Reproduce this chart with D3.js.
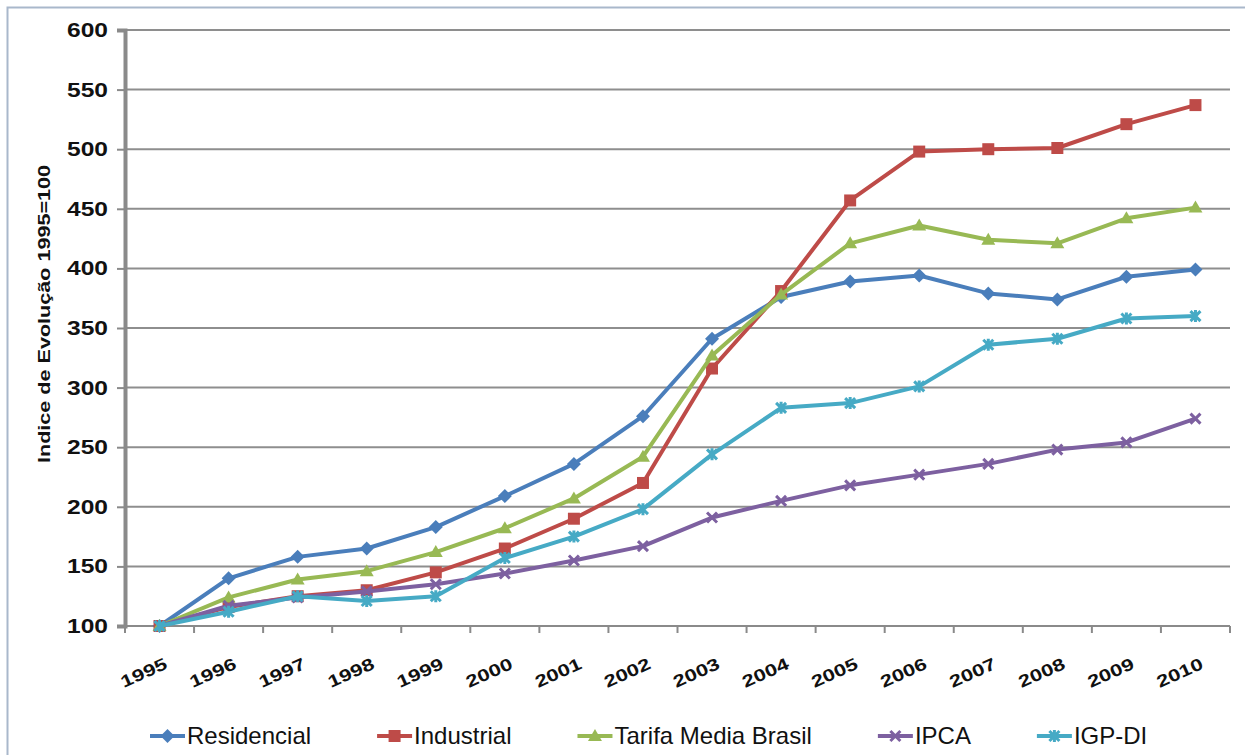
<!DOCTYPE html>
<html>
<head>
<meta charset="utf-8">
<script src="https://cdn.jsdelivr.net/npm/d3@7"></script>
<style>
  body { margin: 0; background: #fff; }
  svg { display: block; font-family: "Liberation Sans", Arial, sans-serif; }
</style>
</head>
<body>
<svg id="chart" width="1245" height="755"></svg>
<script>
// Data
const years = ["1995", "1996", "1997", "1998", "1999", "2000", "2001", "2002",
               "2003", "2004", "2005", "2006", "2007", "2008", "2009", "2010"];
const residencial = [100, 140, 158, 165, 183, 209, 236, 276, 341, 376, 389, 394, 379, 374, 393, 399];
const industrial  = [100, 116, 125, 130, 145, 165, 190, 220, 316, 381, 457, 498, 500, 501, 521, 537];
const tarifa      = [100, 124, 139, 146, 162, 182, 207, 242, 327, 378, 421, 436, 424, 421, 442, 451];
const ipca        = [100, 117, 124, 129, 135, 144, 155, 167, 191, 205, 218, 227, 236, 248, 254, 274];
const igpdi       = [100, 112, 125, 121, 125, 157, 175, 198, 244, 283, 287, 301, 336, 341, 358, 360];
const yTicks = [100, 150, 200, 250, 300, 350, 400, 450, 500, 550, 600];

const series = [
    { name: "Residencial", values: residencial, color: "#4a7ebb", marker: "diamond" },
    { name: "Industrial", values: industrial, color: "#be4b48", marker: "square" },
    { name: "Tarifa Media Brasil", values: tarifa, color: "#98b954", marker: "triangle" },
    { name: "IPCA", values: ipca, color: "#7d60a0", marker: "cross" },
    { name: "IGP-DI", values: igpdi, color: "#46aac5", marker: "star" }
];

const svg = d3.select("#chart");
const plotLeft = 125, plotRight = 1230, plotTop = 30, plotBottom = 626;

// Frame (only top and left visible in the reference)
svg.append("path")
    .attr("d", "M7.5,755 V7.5 H1245")
    .attr("fill", "none")
    .attr("stroke", "#a9b8cb")
    .attr("stroke-width", 2);

const x = d3.scaleBand().domain(years).range([plotLeft, plotRight]);
const y = d3.scaleLinear().domain([100, 600]).range([plotBottom, plotTop]);

// Gridlines
svg.append("g")
    .selectAll("line")
    .data(yTicks.filter(d => d > 100))
    .join("line")
    .attr("x1", plotLeft).attr("x2", plotRight)
    .attr("y1", d => y(d)).attr("y2", d => y(d))
    .attr("stroke", "#8e8e8e")
    .attr("stroke-width", 2);

// Y axis
const yAxis = svg.append("g")
    .attr("transform", `translate(${plotLeft},0)`)
    .call(d3.axisLeft(y).tickValues(yTicks).tickSize(8).tickPadding(9));
yAxis.select(".domain").attr("stroke", "#8a8a8a").attr("stroke-width", 4);
yAxis.selectAll(".tick line").attr("stroke", "#8a8a8a").attr("stroke-width", 2);
yAxis.selectAll(".tick text")
    .attr("font-size", 20)
    .attr("font-weight", "bold")
    .attr("fill", "#111")
    .attr("textLength", 41)
    .attr("lengthAdjust", "spacingAndGlyphs");

// X axis: ticks on category boundaries
const xAxisG = svg.append("g");
xAxisG.append("line")
    .attr("x1", plotLeft).attr("x2", plotRight)
    .attr("y1", plotBottom).attr("y2", plotBottom)
    .attr("stroke", "#8a8a8a").attr("stroke-width", 2);
xAxisG.selectAll(".xt")
    .data(years.map(d => x(d) + x.bandwidth()).concat([plotLeft]))
    .join("line")
    .attr("class", "xt")
    .attr("x1", d => d).attr("x2", d => d)
    .attr("y1", plotBottom).attr("y2", plotBottom + 7)
    .attr("stroke", "#8a8a8a").attr("stroke-width", 2);
xAxisG.selectAll("text")
    .data(years)
    .join("text")
    .attr("transform", d => `translate(${x(d) + x.bandwidth() / 2 + 9},668) rotate(-24)`)
    .attr("text-anchor", "end")
    .attr("font-size", 17)
    .attr("font-weight", "bold")
    .attr("fill", "#111")
    .attr("textLength", 49)
    .attr("lengthAdjust", "spacingAndGlyphs")
    .text(d => d);

// Y axis title
svg.append("text")
    .attr("transform", "translate(50,314) rotate(-90)")
    .attr("text-anchor", "middle")
    .attr("font-size", 16)
    .attr("font-weight", "bold")
    .attr("fill", "#111")
    .attr("textLength", 298)
    .attr("lengthAdjust", "spacingAndGlyphs")
    .text("Indice de Evolução 1995=100");

// Marker shapes
function markerPath(type) {
    if (type === "diamond") return "M0,-7L7,0L0,7L-7,0Z";
    if (type === "square") return "M-6,-6H6V6H-6Z";
    if (type === "triangle") return "M0,-7L7,5H-7Z";
    if (type === "cross") return "M-5,-5L5,5M-5,5L5,-5";
    return "M-5,-5L5,5M-5,5L5,-5M0,-6V6";
}

function drawMarker(g, s) {
    const p = g.append("path").attr("d", markerPath(s.marker));
    if (s.marker === "cross" || s.marker === "star") {
        p.attr("fill", "none").attr("stroke", s.color).attr("stroke-width", 3);
    } else {
        p.attr("fill", s.color);
    }
}

const line = d3.line()
    .x((d, i) => x(years[i]) + x.bandwidth() / 2)
    .y(d => y(d));

series.forEach(s => {
    const g = svg.append("g");
    g.append("path")
        .datum(s.values)
        .attr("d", line)
        .attr("fill", "none")
        .attr("stroke", s.color)
        .attr("stroke-width", 4)
        .attr("stroke-linejoin", "round");
    s.values.forEach((v, i) => {
        const m = g.append("g")
            .attr("transform", `translate(${x(years[i]) + x.bandwidth() / 2},${y(v)})`);
        drawMarker(m, s);
    });
});

// Legend
let lx = 150;
const ly = 736;
series.forEach(s => {
    const g = svg.append("g").attr("transform", `translate(${lx},${ly})`);
    g.append("line")
        .attr("x1", 0).attr("x2", 35)
        .attr("stroke", s.color).attr("stroke-width", 4);
    const m = g.append("g").attr("transform", "translate(17.5,0)");
    drawMarker(m, s);
    const t = g.append("text")
        .attr("x", 37)
        .attr("dy", "0.35em")
        .attr("font-size", 24)
        .attr("fill", "#111")
        .text(s.name);
    lx += 37 + t.node().getComputedTextLength() + 66;
});
</script>
</body>
</html>
